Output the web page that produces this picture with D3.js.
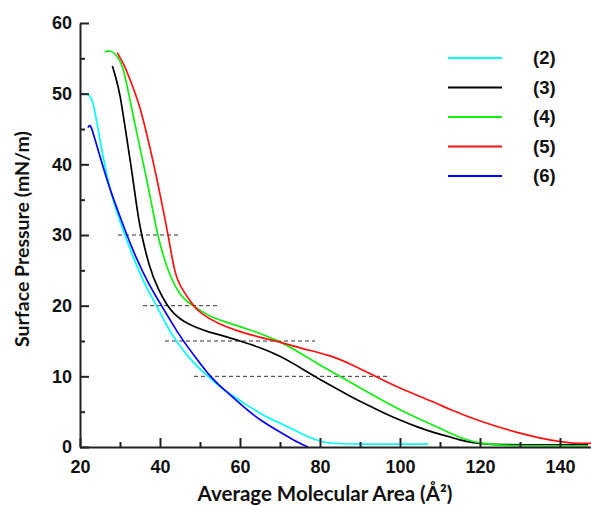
<!DOCTYPE html>
<html>
<head>
<meta charset="utf-8">
<script src="https://cdnjs.cloudflare.com/ajax/libs/d3/7.8.5/d3.min.js"></script>
<style>
  body { margin: 0; background: #fff; }
  .axis text { font-family: "Liberation Sans", Arial, sans-serif; font-weight: bold; font-size: 18px; fill: #111; }
  .axis path, .axis line { stroke: #222; stroke-width: 2; }
  .title { font-family: Lato, "Open Sans", sans-serif; font-weight: bold; fill: #111; }
  .legend text { font-family: "Liberation Sans", Arial, sans-serif; font-weight: bold; font-size: 18.5px; fill: #111; }
</style>
</head>
<body>
<div id="chart"></div>
<script>
var width = 591, height = 506;

var labels = ["(2)", "(3)", "(4)", "(5)", "(6)"];
var colors = ["#00ffff", "#000000", "#11ee11", "#ff1111", "#0000ff"];

var s2 = [[20.5,50],[22.3,50],[23.3,48.8],[24.2,46],[25,43.4],[26.2,39.8],[27.5,36.4],[29,33.6],[31,30.3],[33,27.3],[35,24.5],[37,22.1],[39.2,20],[41.5,17.3],[44,15],[47,12.8],[50,11],[52,10],[55,8.5],[57.5,7.5],[62,5.8],[66.7,4.2],[70,3.4],[75,2.0],[78,1.2],[80,0.8],[83,0.5],[87,0.4],[107,0.4]];
var s3 = [[28.1,53.9],[29,52.2],[30,50],[31.25,45.3],[32.5,40.8],[33.75,35.8],[34.6,32.4],[35.4,30],[37.3,25.5],[39.6,22.2],[41.7,20.1],[43.5,18.8],[46,17.7],[49,16.9],[52,16.3],[56,15.7],[60,15],[65,14.1],[70,12.9],[74,11.6],[78,10.2],[82,8.9],[87.5,7.2],[92,5.9],[96,4.8],[100,3.8],[104,2.9],[108,2.1],[112,1.5],[115,1.0],[118,0.6],[121,0.4],[130,0.3],[147,0.3]];
var s4 = [[26.2,55.9],[27.5,56.2],[29.2,55.5],[30.8,53.8],[32.1,50.2],[33.7,45.8],[35.2,41.8],[37,37],[38.6,32.3],[39.6,29.5],[41.7,25.3],[44.2,22.2],[46.2,20.8],[48.3,20],[52.5,18.4],[57.5,17.5],[62.5,16.6],[70,15],[75,13.3],[80,11.6],[85,10],[91.7,7.8],[100,5.2],[108.3,3.1],[112.5,2.0],[115,1.3],[118,0.8],[120,0.6],[123,0.3],[130,0.15],[147,0.15]];
var s5 = [[29.3,55.8],[31,54.2],[33,51.3],[35,48.2],[37,43.6],[39,38.6],[41,33],[42.2,29.5],[43.4,25.5],[44.4,23.5],[45.8,22.1],[48.3,20],[50,19],[54.2,17.5],[60,16.3],[65,15.5],[69.2,15],[75,14.0],[82.5,13.0],[87.5,11.8],[94.2,9.9],[100,8.3],[108.3,6.4],[112.5,5.3],[120,3.6],[130,1.9],[138.3,0.85],[143.3,0.5],[147.75,0.5]];
var s6 = [[22,45.2],[22.6,45.8],[23.5,44],[25,41.1],[27.5,36.4],[29.5,33.4],[31.7,30],[34,26.8],[37,23.2],[40.4,20],[43,17.5],[45.8,15],[49,12.6],[52.5,10],[55,8.6],[57.5,7.4],[61,5.6],[65,3.8],[70,2.1],[73,1.1],[75,0.5],[77,0]];
var series = [s2, s3, s4, s5, s6];

// dashed reference levels
var dashLevels = [30, 20, 15, 10];
var dashStart = [29.5, 35.75, 41.25, 48.5];
var dashEnd = [45, 54.5, 78.75, 97.25];

var xTicks = [20, 40, 60, 80, 100, 120, 140];
var xMinor = [30, 50, 70, 90, 110, 130];
var yTicks = [0, 10, 20, 30, 40, 50, 60];
var yMinor = [5, 15, 25, 35, 45, 55];

var x = d3.scaleLinear().domain([20, 148]).range([80, 592]);
var y = d3.scaleLinear().domain([0, 60]).range([447, 23]);

var svg = d3.select("#chart").append("svg")
    .attr("width", width)
    .attr("height", height);

var line = d3.line()
    .curve(d3.curveBasis)
    .x(function(d) { return x(d[0]); })
    .y(function(d) { return y(d[1]); });

// dashed lines
svg.selectAll(".dash")
  .data(dashLevels)
  .enter().append("line")
    .attr("class", "dash")
    .attr("x1", function(d, i) { return x(dashStart[i]); })
    .attr("x2", function(d, i) { return x(dashEnd[i]); })
    .attr("y1", function(d) { return y(d); })
    .attr("y2", function(d) { return y(d); })
    .attr("stroke", "#333")
    .attr("stroke-width", 1)
    .attr("stroke-dasharray", "4,3");

svg.selectAll(".curve")
  .data(series)
  .enter().append("path")
    .attr("class", "curve")
    .attr("fill", "none")
    .attr("stroke", function(d, i) { return colors[i]; })
    .attr("stroke-width", 1.7)
    .attr("d", line);

// minor ticks
svg.append("g")
  .attr("class", "axis")
  .attr("transform", "translate(0,447)")
  .call(d3.axisBottom(x).tickValues(xMinor).tickSize(-5).tickFormat(""))
  .select(".domain").remove();
svg.append("g")
  .attr("class", "axis")
  .attr("transform", "translate(80,0)")
  .call(d3.axisLeft(y).tickValues(yMinor).tickSize(-5).tickFormat(""))
  .select(".domain").remove();

// major axes
svg.append("g")
  .attr("class", "axis")
  .attr("transform", "translate(0,447)")
  .call(d3.axisBottom(x).tickValues(xTicks).tickSizeInner(-9).tickSizeOuter(0).tickPadding(13));
svg.append("g")
  .attr("class", "axis")
  .attr("transform", "translate(80,0)")
  .call(d3.axisLeft(y).tickValues(yTicks).tickSizeInner(-9).tickSizeOuter(0).tickPadding(8));

svg.append("text")
  .attr("class", "title")
  .attr("transform", "translate(29,239) rotate(-90)")
  .attr("text-anchor", "middle")
  .style("font-size", "19.5px")
  .text("Surface Pressure (mN/m)");

svg.append("text")
  .attr("class", "title")
  .attr("x", 325)
  .attr("y", 501)
  .attr("text-anchor", "middle")
  .style("font-size", "20.5px")
  .text("Average Molecular Area (Å²)");

// legend
var legend = svg.append("g").attr("class", "legend");
var item = legend.selectAll("g")
  .data(labels)
  .enter().append("g")
    .attr("transform", function(d, i) { return "translate(0," + (58 + i * 29.5) + ")"; });
item.append("line")
  .attr("x1", 448).attr("x2", 502)
  .attr("stroke", function(d, i) { return colors[i]; })
  .attr("stroke-width", 2);
item.append("text")
  .attr("x", 533)
  .attr("dy", "0.35em")
  .text(function(d) { return d; });
</script>
</body>
</html>
